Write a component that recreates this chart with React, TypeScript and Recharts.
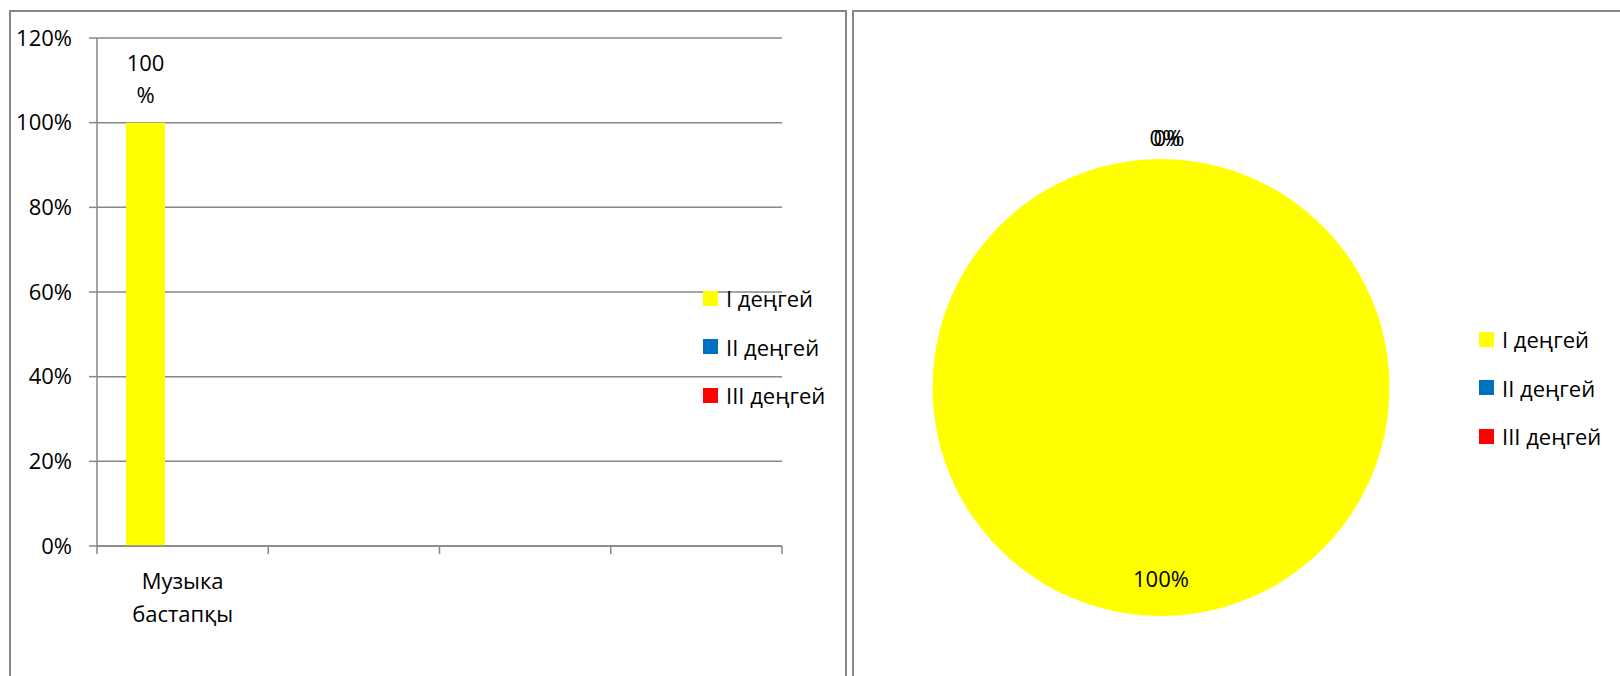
import React from "react";
import { BarChart, Bar, XAxis, YAxis, CartesianGrid, Legend, LabelList, PieChart, Pie, Cell } from "recharts";

// ---- data ----
const categories = ["Музыка бастапқы", "", " ", "  "];
const seriesNames = ["I деңгей", "II деңгей", "III деңгей"];
const seriesColors = ["#FFFF00", "#0070C0", "#FF0000"];
const level1 = [1, null, null, null];
const level2 = [0, null, null, null];
const level3 = [0, null, null, null];
const yTicks = [0, 0.2, 0.4, 0.6, 0.8, 1.0, 1.2];
const pieValues = [1, 0, 0];

const barData = categories.map((c, i) => ({ cat: c, s1: level1[i], s2: level2[i], s3: level3[i] }));
const pieData = seriesNames.map((n, i) => ({ name: n, value: pieValues[i] }));

const FONT = "'Open Sans', 'Noto Sans', sans-serif";
const GRID = "#878787";
const FS = 22;

const LEFT_W = 848;
const H = 676;
const Y_W = 97;
const M_RIGHT = 66;
const PLOT_W = LEFT_W - Y_W - M_RIGHT;
const HALF_BAND = PLOT_W / categories.length / 2;

const pct = (v: number) => `${Math.round(v * 100)}%`;

const XTick = (props: any) => {
  const { x, y, payload, index } = props;
  const label: string = String(payload.value).trim();
  const lines = label ? label.split(" ") : [];
  return (
    <g>
      <line x1={x - HALF_BAND} y1={y} x2={x - HALF_BAND} y2={y + 8} stroke={GRID} strokeWidth={1.5} />
      {index === categories.length - 1 && (
        <line x1={x + HALF_BAND} y1={y} x2={x + HALF_BAND} y2={y + 8} stroke={GRID} strokeWidth={1.5} />
      )}
      {lines.map((l, i) => (
        <text key={i} x={x} y={y + 43 + i * 33} textAnchor="middle" fill="#000" fontSize={FS} fontFamily={FONT}>
          {l}
        </text>
      ))}
    </g>
  );
};

const BarValueLabel = (props: any) => {
  const { x, y, width, value } = props;
  if (value == null || value === 0) return null;
  const s = pct(value);
  const num = s.replace("%", "");
  const cx = x + width / 2;
  return (
    <g>
      <text x={cx} y={y - 52} textAnchor="middle" fill="#000" fontSize={FS} fontFamily={FONT}>{num}</text>
      <text x={cx} y={y - 19.5} textAnchor="middle" fill="#000" fontSize={FS} fontFamily={FONT}>%</text>
    </g>
  );
};

const LegendContent = () => (
  <div style={{ fontFamily: FONT, fontSize: FS, color: "#000" }}>
    {seriesNames.map((n, i) => (
      <div key={n} style={{ height: 48.5, display: "flex", alignItems: "center", whiteSpace: "nowrap" }}>
        <span style={{ display: "inline-block", width: 15, height: 15, background: seriesColors[i], marginRight: 8 }} />
        <span>{n}</span>
      </div>
    ))}
  </div>
);

const RAD = Math.PI / 180;
const PieLabel = (props: any) => {
  const { cx, cy, outerRadius, midAngle, value, index } = props;
  if (value === 0) {
    const r = outerRadius + 21;
    const x = cx + r * Math.cos(-midAngle * RAD) + (index === 1 ? 4 : 8);
    const y = cy + r * Math.sin(-midAngle * RAD);
    return (
      <text x={x} y={y} dy="0.35em" textAnchor="middle" fill="#000" fontSize={FS} fontFamily={FONT}>
        {pct(value)}
      </text>
    );
  }
  const r = outerRadius - 37;
  const x = cx + r * Math.cos(-midAngle * RAD);
  const y = cy + r * Math.sin(-midAngle * RAD);
  return (
    <text x={x} y={y} dy="0.35em" textAnchor="middle" fill="#000" fontSize={FS} fontFamily={FONT}>
      {pct(value)}
    </text>
  );
};

export default function App() {
  return (
    <div style={{ position: "absolute", left: 0, top: 0, width: 1620, height: H, overflow: "hidden", background: "#fff", fontFamily: FONT }}>
      <div style={{ position: "absolute", left: 8.5, top: 9.5, width: 838, height: 700, border: `2px solid ${GRID}`, boxSizing: "border-box" }} />
      <div style={{ position: "absolute", left: 852, top: 9.5, width: 800, height: 700, border: `2px solid ${GRID}`, boxSizing: "border-box" }} />
      <div style={{ position: "absolute", left: 0, top: 0 }}>
        <BarChart width={LEFT_W} height={H} data={barData} margin={{ top: 38, right: M_RIGHT, bottom: 30, left: 0 }} barSize={39} barGap={-2}>
          <CartesianGrid horizontal vertical={false} stroke={GRID} strokeWidth={1.5} />
          <XAxis dataKey="cat" height={100} tickLine={false} tickSize={0} tickMargin={0} interval={0} axisLine={{ stroke: GRID, strokeWidth: 1.5 }} tick={<XTick />} />
          <YAxis width={Y_W} domain={[0, 1.2]} ticks={yTicks} tickFormatter={pct} tickSize={8} tickMargin={17} axisLine={{ stroke: GRID, strokeWidth: 1.5 }} tickLine={{ stroke: GRID, strokeWidth: 1.5 }} tick={{ fill: "#000", fontSize: FS, fontFamily: FONT }} interval={0} />
          <Legend layout="horizontal" verticalAlign="middle" align="center" content={<LegendContent />} wrapperStyle={{ left: 703, top: 274, width: 145 }} />
          <Bar dataKey="s1" name={seriesNames[0]} fill={seriesColors[0]} isAnimationActive={false}>
            <LabelList dataKey="s1" content={<BarValueLabel />} />
          </Bar>
          <Bar dataKey="s2" name={seriesNames[1]} fill={seriesColors[1]} isAnimationActive={false} />
          <Bar dataKey="s3" name={seriesNames[2]} fill={seriesColors[2]} isAnimationActive={false} />
        </BarChart>
      </div>
      <div style={{ position: "absolute", left: 852, top: 0 }}>
        <PieChart width={768} height={H} margin={{ top: 0, right: 0, bottom: 0, left: 0 }}>
          <Pie data={pieData} dataKey="value" nameKey="name" cx={309} cy={387.5} outerRadius={228.5} startAngle={90} endAngle={-270} stroke="none" label={<PieLabel />} labelLine={false} isAnimationActive={false}>
            {pieData.map((d, i) => (
              <Cell key={d.name} fill={seriesColors[i]} />
            ))}
          </Pie>
          <Legend layout="horizontal" verticalAlign="middle" align="center" content={<LegendContent />} wrapperStyle={{ left: 627, top: 315, width: 141 }} />
        </PieChart>
      </div>
    </div>
  );
}
